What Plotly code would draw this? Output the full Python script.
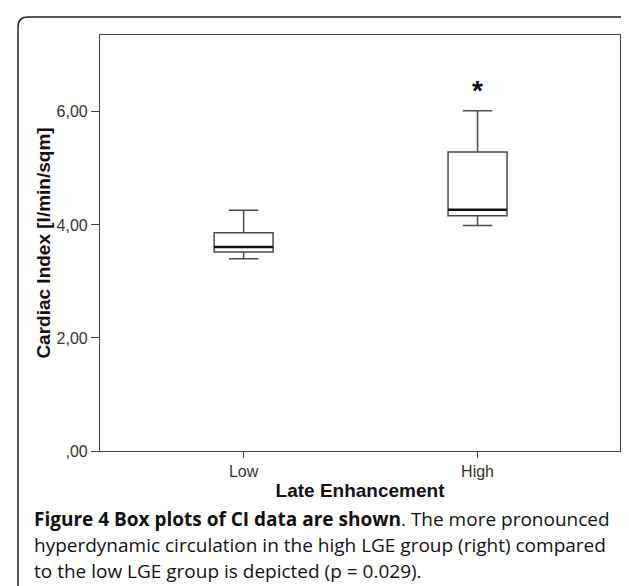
import plotly.graph_objects as go

# ---- data ----
categories = ["Low", "High"]
cat_pos = [0, 1]
lower_whisker = [3.40, 3.99]
q1_vals = [3.52, 4.16]
median_vals = [3.61, 4.27]
q3_vals = [3.86, 5.29]
upper_whisker = [4.26, 6.02]
outlier_x = [1]
outlier_y = [6.33]
y_tickvals = [0, 2, 4, 6]
y_ticktext = [",00", "2,00", "4,00", "6,00"]

W, H = 629, 586
L, R, T, B = 92, 612, 27, 442.7


def X(px):
    return (px - L) / (R - L)


def Y(py):
    return (B - py) / (B - T)


fig = go.Figure()

box_line = "#4a4a4a"
fig.add_trace(go.Box(
    x=cat_pos, q1=q1_vals, median=median_vals, q3=q3_vals,
    lowerfence=lower_whisker, upperfence=upper_whisker,
    width=0.252, whiskerwidth=0.5, boxpoints=False,
    fillcolor="white", line=dict(color=box_line, width=1.5),
    showlegend=False, hoverinfo="skip",
))
# thicker median line overlay
fig.add_trace(go.Box(
    x=cat_pos, q1=median_vals, median=median_vals, q3=median_vals,
    lowerfence=median_vals, upperfence=median_vals,
    width=0.252, whiskerwidth=0, boxpoints=False,
    fillcolor="rgba(0,0,0,0)", line=dict(color="#111111", width=2.5),
    showlegend=False, hoverinfo="skip",
))
fig.add_trace(go.Scatter(
    x=outlier_x, y=outlier_y, mode="text", text=["<b>*</b>"],
    textposition="middle center",
    textfont=dict(family="Liberation Sans, Arial", size=28, color="#111111"),
    showlegend=False, hoverinfo="skip",
))

axis_font = dict(family="Liberation Sans, Arial", size=16, color="#333333")
title_font = dict(family="Liberation Sans, Arial", size=19, color="#111111")

fig.update_layout(
    width=W, height=H,
    margin=dict(l=L, r=W - R, t=T, b=H - B),
    paper_bgcolor="white", plot_bgcolor="white",
    boxmode="overlay",
    xaxis=dict(
        range=[-0.614, 1.609], tickvals=cat_pos, ticktext=categories,
        ticks="outside", ticklen=6, tickcolor="#444444",
        showline=True, linecolor="#444444", linewidth=1.2, mirror=True,
        showgrid=False, zeroline=False, tickfont=axis_font,
        title=dict(text="<b>Late Enhancement</b>", font=title_font, standoff=4),
    ),
    yaxis=dict(
        range=[0, 7.36], tickvals=y_tickvals, ticktext=y_ticktext,
        ticks="outside", ticklen=8, tickcolor="#444444",
        showline=True, linecolor="#444444", linewidth=1.2, mirror=True,
        showgrid=False, zeroline=False, tickfont=axis_font,
        title=dict(text="<b>Cardiac Index [l/min/sqm]</b>", font=title_font, standoff=0),
    ),
)

# outer rounded frame (open at bottom of image)
r = 10
x0, x1, y0, y1 = 10, 628, 9, 596
path = (
    f"M {X(x0)},{Y(y1 - r)} L {X(x0)},{Y(y0 + r)} "
    f"Q {X(x0)},{Y(y0)} {X(x0 + r)},{Y(y0)} "
    f"L {X(x1 - r)},{Y(y0)} Q {X(x1)},{Y(y0)} {X(x1)},{Y(y0 + r)} "
    f"L {X(x1)},{Y(y1 - r)} Q {X(x1)},{Y(y1)} {X(x1 - r)},{Y(y1)} "
    f"L {X(x0 + r)},{Y(y1)} Q {X(x0)},{Y(y1)} {X(x0)},{Y(y1 - r)} Z"
)
fig.add_shape(type="path", path=path, xref="paper", yref="paper",
              line=dict(color="#222222", width=1.5), layer="below")

cap_font = dict(family="Open Sans", size=19, color="#111111")
caption_lines = [
    "<b>Figure 4 Box plots of CI data are shown</b>. The more pronounced",
    "hyperdynamic circulation in the high LGE group (right) compared",
    "to the low LGE group is depicted (p = 0.029).",
]
caption_y = [511, 537, 563]
for txt, cy in zip(caption_lines, caption_y):
    fig.add_annotation(text=txt, xref="paper", yref="paper",
                       x=X(25), y=Y(cy), xanchor="left", yanchor="middle",
                       showarrow=False, font=cap_font, align="left",
                       borderpad=0)

fig.write_html("out.html")
